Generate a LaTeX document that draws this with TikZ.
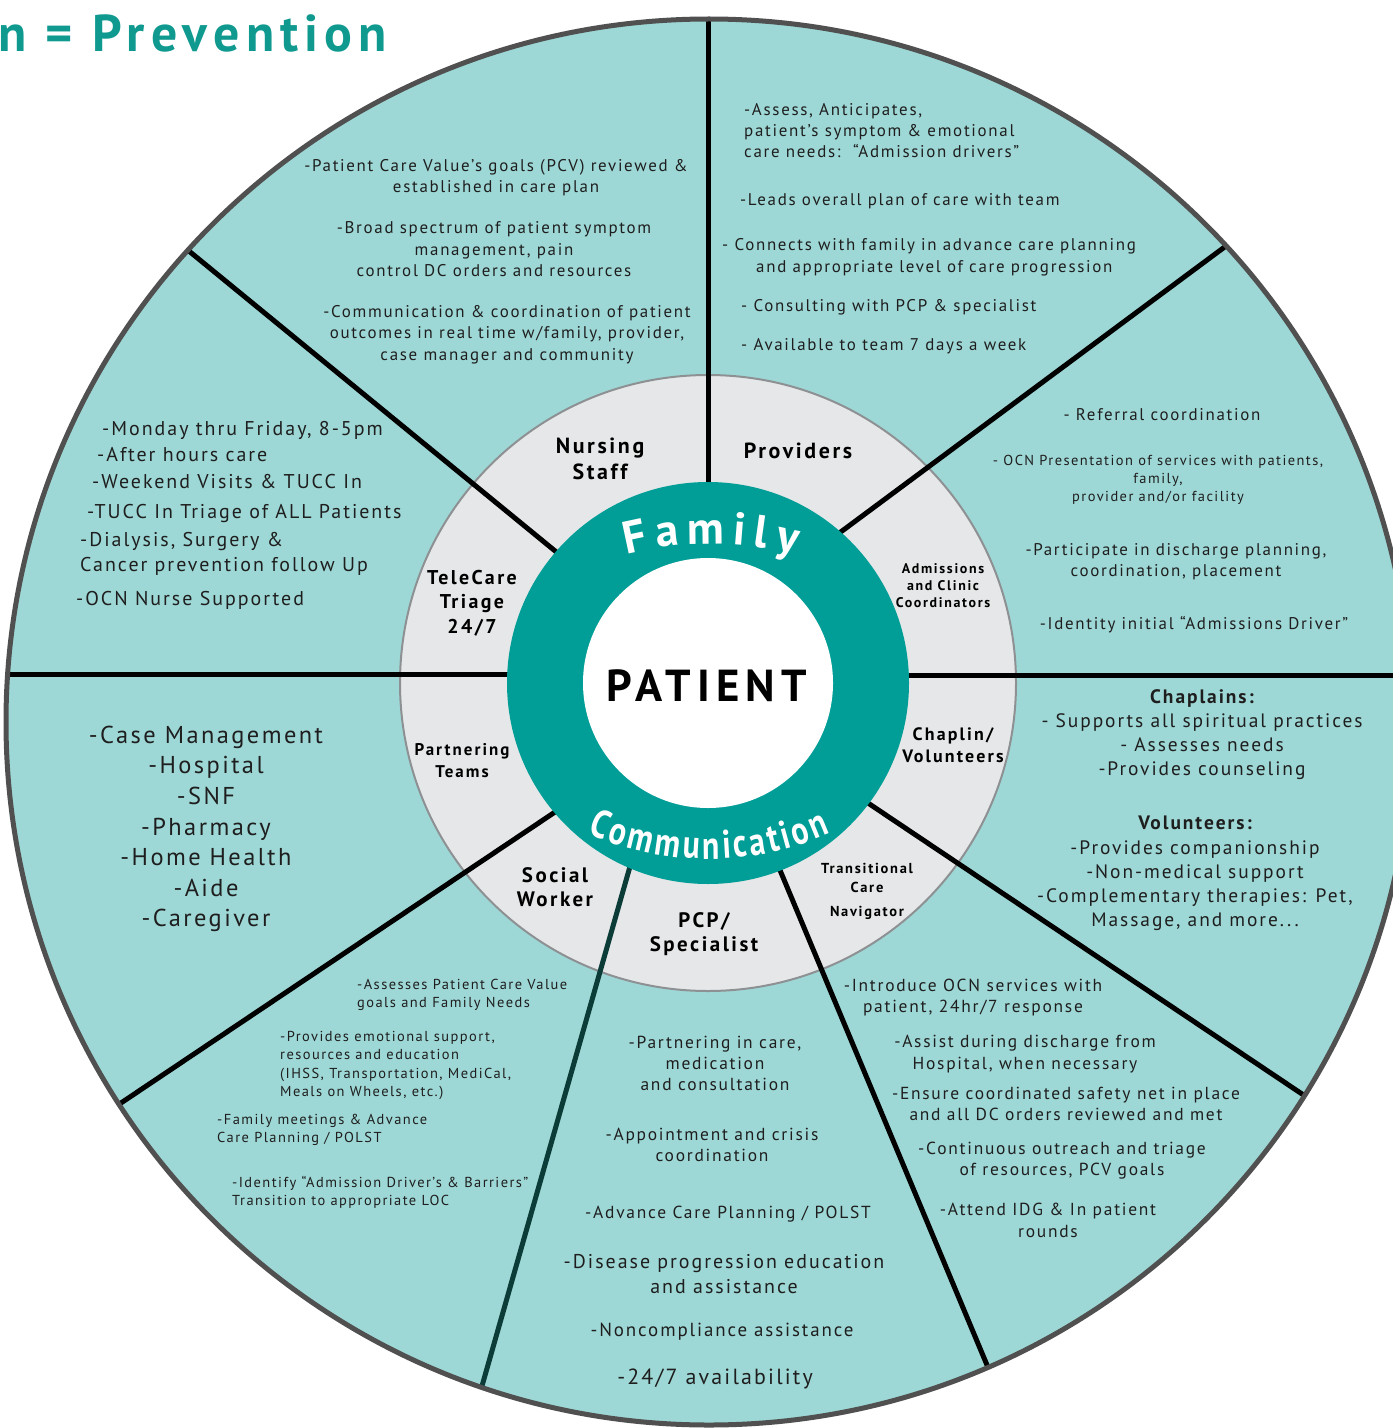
\documentclass[tikz,border=0pt]{standalone}
\usepackage{fontspec}
\setmainfont{PT Sans}
\usetikzlibrary{decorations.text}
\newfontfamily\descfont[LetterSpace=10]{PT Sans}
\newfontfamily\labfont[LetterSpace=12]{PT Sans}
\newfontfamily\ringfont[FakeStretch=0.8]{PT Sans}
\newfontfamily\famfont{PT Sans}
\newfontfamily\patfont[LetterSpace=14]{PT Sans}
\newfontfamily\titlefont[LetterSpace=12]{PT Sans}

\definecolor{seafoam}{HTML}{9ED8D6}
\definecolor{ringteal}{HTML}{009E97}
\definecolor{hubgrey}{HTML}{E6E7E8}
\definecolor{hubedge}{HTML}{8E9193}
\definecolor{rimgrey}{HTML}{505050}
\definecolor{inktext}{HTML}{1E1E1E}
\definecolor{titleteal}{HTML}{10998F}
\definecolor{spokedark}{HTML}{0B3C37}

\newcommand{\fsz}[2]{\fontsize{#1}{#2}\selectfont}

\tikzset{
  desc/.style 2 args={font=\descfont\fsz{#1}{#2}, text=inktext, align=center, inner sep=0pt},
  descl/.style 2 args={desc={#1}{#2}, align=left, anchor=west},
  lab/.style 2 args={font=\labfont\bfseries\fsz{#1}{#2}, text=black, align=center, inner sep=0pt},
  spoke/.style={line width=5bp, black},
}

\begin{document}
\begin{tikzpicture}[x=1bp,y=-1bp]
\useasboundingbox (0,0) rectangle (1393,1428);
\clip (0,0) rectangle (1393,1428);

% centres
\coordinate (hub) at (708,683);
\coordinate (rim) at (709,722);

% outer wheel
\fill[seafoam] (rim) circle[radius=703];
% grey ring
\filldraw[fill=hubgrey, draw=hubedge, line width=2bp] (hub) circle[radius=308];

% spokes
\coordinate (s1in) at (708,490);   \coordinate (s1out) at (708,5);
\coordinate (s2in) at (560,555);   \coordinate (s2out) at (180,243.7);
\coordinate (s3in) at (838,534);   \coordinate (s3out) at (1230,243);
\coordinate (s4in) at (515,674);   \coordinate (s4out) at (0,674);
\coordinate (s5in) at (900,675);   \coordinate (s5out) at (1393,675);
\coordinate (s6in) at (862,799);   \coordinate (s6out) at (1308,1098);
\coordinate (s7in) at (777,863);   \coordinate (s7out) at (992,1377);
\coordinate (s8in) at (631,863);   \coordinate (s8out) at (478,1400);
\coordinate (s9in) at (558,810);   \coordinate (s9out) at (112,1109);
\begin{scope}
  \clip (rim) circle[radius=703];
  \draw[spoke] (s1in) -- (s1out);
  \draw[spoke] (s2in) -- (s2out);
  \draw[spoke] (s3in) -- (s3out);
  \draw[spoke] (s4in) -- (s4out);
  \draw[spoke] (s5in) -- (s5out);
  \draw[spoke] (s6in) -- (s6out);
  \draw[spoke] (s7in) -- (s7out);
  \draw[spoke, spokedark] (s8in) -- (s8out);
  \draw[spoke] (s9in) -- (s9out);
\end{scope}

% teal ring and white core
\fill[ringteal] (hub) circle[radius=201];
\fill[white] (hub) circle[radius=125];

% rim outline
\draw[rimgrey, line width=5bp] (rim) circle[radius=703];

% curved ring words
\begin{scope}[yscale=-1]
  \path[decorate, decoration={text along path, text align=fit to path,
      text={|\famfont\bfseries\fsz{46}{46}\color{white}|Family}}]
      (711,-893) ++(104:349) arc[start angle=104, end angle=76, radius=349];
  \path[decorate, decoration={text along path, text align=fit to path,
      text={|\ringfont\bfseries\fsz{40}{40}\color{white}|Communication}}]
      (709,-560) ++(246:299) arc[start angle=246, end angle=294, radius=299];
\end{scope}

\node[font=\patfont\bfseries\fsz{45}{45}, inner sep=0pt] (patient) at (707,686) {PATIENT};

% title
\node[anchor=base west, font=\titlefont\bfseries\fsz{52}{52}, text=titleteal, inner sep=0pt] (title) at (-2,52) {n = Prevention};

% grey ring labels
\node[lab={22}{26}] (lNurse) at (600,459) {Nursing\\Staff};
\node[lab={22}{26}] (lProv) at (798,451) {Providers};
\node[lab={14}{17}] (lAdm) at (943,586) {Admissions\\and Clinic\\Coordinators};
\node[lab={18}{22}] (lChap) at (953,745) {Chaplin/\\Volunteers};
\node[lab={14.5}{19}] (lTcn) at (867,891.5) {Transitional\\Care\\[5bp]Navigator};
\node[lab={21}{24}] (lPcp) at (704,934) {PCP/\\Specialist};
\node[lab={21}{24}] (lSoc) at (555,887) {Social\\Worker};
\node[lab={17}{22}] (lPart) at (462,761) {Partnering\\Teams};
\node[lab={20}{24.5}] (lTele) at (472,603) {TeleCare\\Triage\\24/7};

% nursing staff sector
\node[desc={17}{21.5}] (nurA) at (496,177.5) {-Patient Care Value’s goals (PCV) reviewed \&\\established in care plan};
\node[desc={17}{21.5}] (nurB) at (494,249.5) {-Broad spectrum of patient symptom\\management, pain\\control DC orders and resources};
\node[desc={17}{21.5}] (nurC) at (507,334.5) {-Communication \& coordination of patient\\outcomes in real time w/family, provider,\\case manager and community};

% providers sector
\node[descl={17}{21}] (provA) at (744,131) {-Assess, Anticipates,\\patient’s symptom \& emotional\\care needs:\ \ “Admission drivers”};
\node[descl={17}{21}] (provB) at (740,201) {-Leads overall plan of care with team};
\node[descl={17}{21}] (provC1) at (722,246) {- Connects with family in advance care planning};
\node[descl={17}{21}] (provC2) at (756,268) {and appropriate level of care progression};
\node[descl={17}{21}] (provD) at (741,307) {- Consulting with PCP \& specialist};
\node[descl={17}{21}] (provE) at (741,346) {- Available to team 7 days a week};

% admissions sector
\node[desc={17}{21}] (admA) at (1162,415) {- Referral coordination};
\node[desc={14.5}{18}] (admB) at (1158,480) {- OCN Presentation of services with patients,\\family,\\provider and/or facility};
\node[desc={17}{21}] (admC) at (1176,561.5) {-Participate in discharge planning,\\coordination, placement};
\node[desc={17}{21}] (admD) at (1194,625) {-Identity initial “Admissions Driver”};

% chaplain sector
\node[desc={19.5}{24.3}] (chapA) at (1202,734.5) {{\bfseries Chaplains:}\\- Supports all spiritual practices\\- Assesses needs\\-Provides counseling};
\node[desc={19.5}{24.3}] (chapB) at (1195,873.5) {{\bfseries Volunteers:}\\-Provides companionship\\-Non-medical support\\-Complementary therapies: Pet,\\Massage, and more...};

% transitional care sector
\node[desc={17.5}{21.5}] (tcnA) at (973,997.5) {-Introduce OCN services with\\patient, 24hr/7 response};
\node[desc={17.5}{21.5}] (tcnB) at (1025,1054) {-Assist during discharge from\\Hospital, when necessary};
\node[desc={17.5}{21.5}] (tcnC) at (1066,1104) {-Ensure coordinated safety net in place\\and all DC orders reviewed and met};
\node[desc={17.5}{21.5}] (tcnD) at (1062,1160.5) {-Continuous outreach and triage\\of resources, PCV goals};
\node[desc={17.5}{21.5}] (tcnE) at (1048,1220.5) {-Attend IDG \& In patient\\rounds};

% pcp sector
\node[desc={17.5}{21}] (pcpA) at (715,1063) {-Partnering in care,\\medication\\and consultation};
\node[desc={17.5}{21}] (pcpB) at (712,1144.5) {-Appointment and crisis\\coordination};
\node[desc={17.5}{21}] (pcpC) at (728,1214) {-Advance Care Planning / POLST};
\node[desc={20}{25}] (pcpD) at (724,1274.5) {-Disease progression education\\and assistance};
\node[desc={19}{23}] (pcpE) at (722,1332) {-Noncompliance assistance};
\node[desc={22}{26}] (pcpF) at (715,1379) {-24/7 availability};

% social worker sector
\node[descl={14.5}{18.3}] (socA) at (357,995) {-Assesses Patient Care Value\\goals and Family Needs};
\node[descl={14.5}{18.3}] (socB) at (280,1065.5) {-Provides emotional support,\\resources and education\\(IHSS, Transportation, MediCal,\\Meals on Wheels, etc.)};
\node[descl={14.5}{18.3}] (socC) at (217,1130) {-Family meetings \& Advance\\Care Planning / POLST};
\node[descl={14.5}{18.3}] (socD) at (232,1192) {-Identify “Admission Driver’s \& Barriers”\\Transition to appropriate LOC};

% partnering teams sector
\node[desc={24.5}{30.7}] (ptA) at (206,829) {-Case Management\\-Hospital\\-SNF\\-Pharmacy\\-Home Health\\-Aide\\-Caregiver};

% telecare sector
\node[descl={20}{25}] (tel1) at (102,430) {-Monday thru Friday, 8-5pm};
\node[descl={20}{25}] (tel2) at (97,455) {-After hours care};
\node[descl={20}{25}] (tel3) at (92,482) {-Weekend Visits \& TUCC In};
\node[descl={20}{25}] (tel4) at (87,514) {-TUCC In Triage of ALL Patients};
\node[descl={20}{25}] (tel5) at (80,553.5) {-Dialysis, Surgery \&\\Cancer prevention follow Up};
\node[descl={20}{25}] (tel6) at (76,600) {-OCN Nurse Supported};
\end{tikzpicture}
\end{document}
